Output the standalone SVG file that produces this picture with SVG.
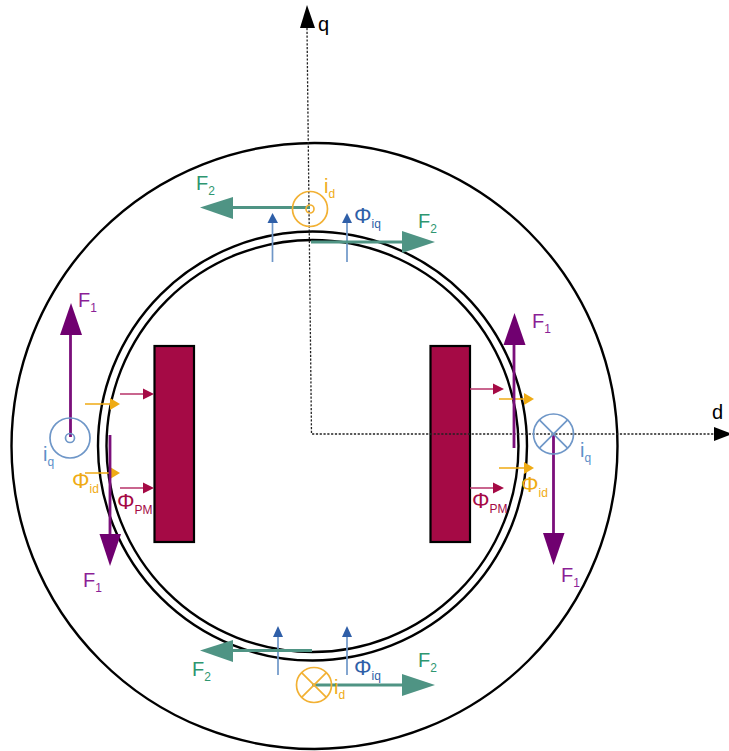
<svg xmlns="http://www.w3.org/2000/svg" width="729" height="751" viewBox="0 0 729 751">
<style>
text{font-family:"Liberation Sans",Arial,sans-serif;font-size:20px}
.s{font-size:12px}
.phi{font-size:22px}
.ring{fill:none;stroke:#000;stroke-width:2.4}
.axis{fill:none;stroke:#222;stroke-width:1.3;stroke-dasharray:2.2 1.6}
.magnet{fill:#a50a45;stroke:#000;stroke-width:2.2}
.cq{fill:none;stroke:#6f97c8;stroke-width:1.7}
.cd{fill:none;stroke:#f2b134;stroke-width:1.7}
.f1{stroke:#7b0f7b;stroke-width:2.8;fill:none}
.f2{stroke:#4f9484;stroke-width:2.8;fill:none}
.hp{fill:#700070}
.ht{fill:#4f9484}
.pq{stroke:#6f97c8;stroke-width:1.7}
.ph{fill:#2f5fa8}
.pd{stroke:#efab14;stroke-width:1.7}
.oh{fill:#efab14}
.pm{stroke:#b8336a;stroke-width:1.7}
.mh{fill:#a50a45}
.tf1{fill:#8c1f96}
.tf2{fill:#2e9670}
.tq{fill:#2f5fa8}
.tiq{fill:#5c8fc8}
.td{fill:#efab14}
.tm{fill:#a50a45}
</style>
<g id="stator"><circle class="ring" cx="314.5" cy="446" r="303"/></g>
<g id="gap"><circle class="ring" cx="312.500" cy="446" r="214.500"/><circle class="ring" cx="312.500" cy="446" r="206"/></g>
<g id="magnet-left"><rect class="magnet" x="154.500" y="346" width="39.500" height="196"/></g>
<g id="magnet-right"><rect class="magnet" x="430.500" y="346" width="39.500" height="196"/></g>
<g id="connectors">
<path class="axis" d="M307 28L311.500 434H715"/>
<polygon points="300,28 315,28 307,5" fill="#000"/>
<polygon points="714,427 714,441 732,434" fill="#000"/>
<path class="pm" d="M120 394H145M120 488H145M470 389H495M470 488H495"/>
<g class="mh"><polygon points="143,388.500 143,399.500 154,394"/><polygon points="143,482.500 143,493.500 154,488"/><polygon points="493,383.500 493,394.500 504,389"/><polygon points="493,482.500 493,493.500 504,488"/></g>
<path class="pd" d="M85 404H110M85 473H110M499 399H524M499 468H524"/>
<g class="oh"><polygon points="110,398 110,410 120,404"/><polygon points="110,467 110,479 120,473"/><polygon points="524,393 524,405 534,399"/><polygon points="524,462 524,474 534,468"/></g>
<path class="pq" d="M272.500 262V223M347 262V223M278 675V636M347 675V636"/>
<g class="ph"><polygon points="267.500,223 278,223 272.500,213"/><polygon points="342,223 352,223 347,213"/><polygon points="273,637 283,637 278,626"/><polygon points="342,637 352,637 347,626"/></g>
<path class="f1" d="M70.500 437V334M110 435V535M514 448V344M553.500 434V534"/>
<g class="hp"><polygon points="60,335 82,335 71,303"/><polygon points="99.500,534 121,534 110,566"/><polygon points="503.500,345 525.500,345 514.500,313"/><polygon points="543,533 564.500,533 553.500,565"/></g>
<path class="f2" d="M310 207.500H232M311 242H403M312 650.500H232M312 685H403"/>
<g class="ht"><polygon points="233,197 233,219 200,207.500"/><polygon points="402,231 402,253 435,242"/><polygon points="233,640 233,662 200,650.500"/><polygon points="402,674 402,696 435,685"/></g>
</g>
<g id="iq-left"><circle class="cq" cx="70" cy="438" r="20"/><circle class="cq" cx="70" cy="438" r="4.500"/></g>
<g id="iq-right"><circle class="cq" cx="553.500" cy="434" r="20"/><path class="cq" d="M539.400 419.900L567.600 448.100M567.600 419.900L539.400 448.100"/></g>
<g id="id-top"><circle class="cd" cx="310" cy="209" r="17.500"/><circle class="cd" cx="310" cy="209" r="4"/></g>
<g id="id-bottom"><circle class="cd" cx="314" cy="685" r="17.500"/><path class="cd" d="M301.600 672.600L326.400 697.400M326.400 672.600L301.600 697.400"/></g>
<g id="labels">
<text x="318" y="31" fill="#000">q</text>
<text x="712" y="419" fill="#000">d</text>
<text x="78" y="307" class="tf1">F<tspan class="s" dy="5">1</tspan></text>
<text x="83" y="587" class="tf1">F<tspan class="s" dy="5">1</tspan></text>
<text x="532" y="328" class="tf1">F<tspan class="s" dy="5">1</tspan></text>
<text x="561" y="582" class="tf1">F<tspan class="s" dy="5">1</tspan></text>
<text x="196" y="190" class="tf2">F<tspan class="s" dy="5">2</tspan></text>
<text x="418" y="228" class="tf2">F<tspan class="s" dy="5">2</tspan></text>
<text x="192" y="676" class="tf2">F<tspan class="s" dy="5">2</tspan></text>
<text x="418" y="667" class="tf2">F<tspan class="s" dy="5">2</tspan></text>
<text x="43" y="461" class="tiq">i<tspan class="s" dy="5">q</tspan></text>
<text x="580" y="457" class="tiq">i<tspan class="s" dy="5">q</tspan></text>
<text x="324" y="193" class="td">i<tspan class="s" dy="5">d</tspan></text>
<text x="334" y="694" class="td">i<tspan class="s" dy="5">d</tspan></text>
<text x="72" y="488" class="td phi">Φ<tspan class="s" dy="5">id</tspan></text>
<text x="521" y="492" class="td phi">Φ<tspan class="s" dy="5">id</tspan></text>
<text x="117" y="509" class="tm phi">Φ<tspan class="s" dy="5">PM</tspan></text>
<text x="472" y="508" class="tm phi">Φ<tspan class="s" dy="5">PM</tspan></text>
<text x="354" y="223" class="tq phi">Φ<tspan class="s" dy="5">iq</tspan></text>
<text x="354" y="675" class="tq phi">Φ<tspan class="s" dy="5">iq</tspan></text>
</g>
</svg>
